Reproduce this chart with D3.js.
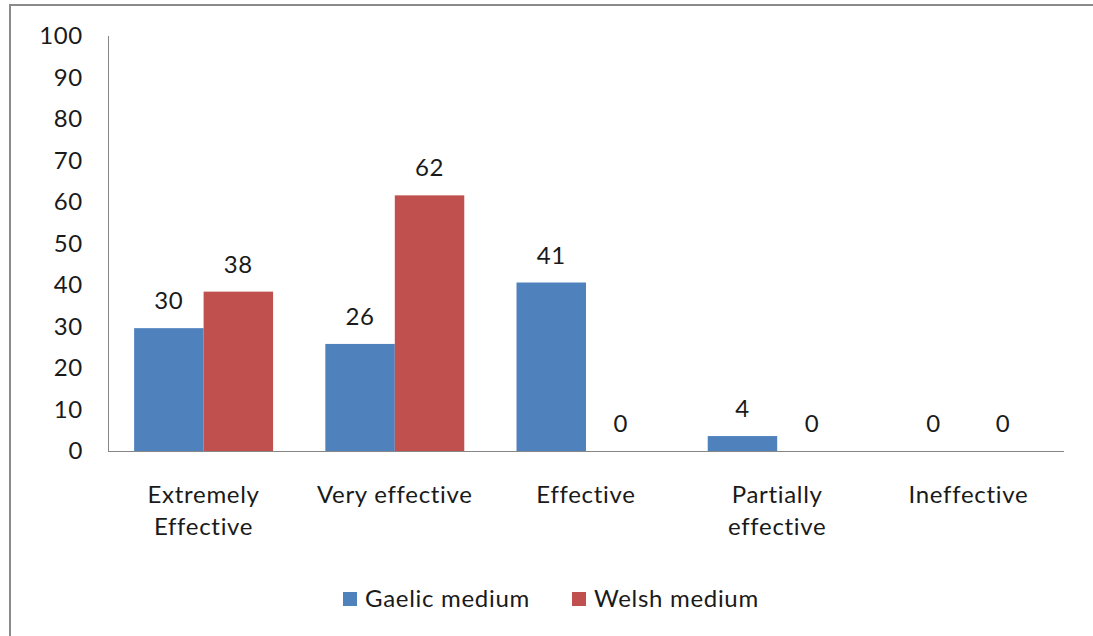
<!DOCTYPE html>
<html>
<head>
<meta charset="utf-8">
<script src="https://cdn.jsdelivr.net/npm/d3@7"></script>
<style>
  html, body { margin: 0; padding: 0; background: #fff; }
  svg { display: block; font-family: Lato, "Open Sans", sans-serif; }
  text { letter-spacing: 0.7px; }
</style>
</head>
<body>
<svg id="chart" width="1093" height="636"></svg>
<script>
const categories = [["Extremely", "Effective"], ["Very effective"], ["Effective"], ["Partially", "effective"], ["Ineffective"]];
const seriesNames = ["Gaelic medium", "Welsh medium"];
const gaelicValues = [29.6, 25.8, 40.6, 3.6, 0];
const welshValues = [38.4, 61.6, 0, 0, 0];
const yTicks = [0, 10, 20, 30, 40, 50, 60, 70, 80, 90, 100];
const colors = ["#4F81BD", "#C0504D"];

const svg = d3.select("#chart");
const plotLeft = 108, plotRight = 1064, plotTop = 36, plotBottom = 451;
const fontSize = 24;

// outer frame
svg.append("path")
  .attr("d", "M10,700 L10,5 L1200,5")
  .attr("fill", "none").attr("stroke", "#8a8a8a").attr("stroke-width", 2);

const x0 = d3.scaleBand().domain(d3.range(categories.length)).range([plotLeft, plotRight]).paddingInner(0).paddingOuter(0);
const x1 = d3.scaleBand().domain([0, 1]).range([0, x0.bandwidth()]).paddingOuter(0.376).paddingInner(0);
const y = d3.scaleLinear().domain([0, 100]).range([plotBottom, plotTop]);

// y axis labels
svg.append("g").selectAll("text").data(yTicks).join("text")
  .attr("x", 83).attr("y", d => y(d)).attr("dy", "0.35em")
  .attr("text-anchor", "end").attr("font-size", fontSize).attr("fill", "#1a1a1a")
  .text(d => d);

const series = [gaelicValues, welshValues];
series.forEach((vals, si) => {
  const g = svg.append("g");
  g.selectAll("rect").data(vals).join("rect")
    .attr("x", (d, i) => x0(i) + x1(si))
    .attr("width", x1.bandwidth())
    .attr("y", d => y(d))
    .attr("height", d => plotBottom - y(d))
    .attr("fill", colors[si]);
  g.selectAll("text").data(vals).join("text")
    .attr("x", (d, i) => x0(i) + x1(si) + x1.bandwidth() / 2)
    .attr("y", d => y(d) - 19)
    .attr("text-anchor", "middle").attr("font-size", fontSize).attr("fill", "#1a1a1a")
    .text(d => d3.format(".0f")(d));
});

// axes lines
svg.append("line").attr("x1", plotLeft + 0.5).attr("x2", plotLeft + 0.5).attr("y1", plotTop).attr("y2", plotBottom)
  .attr("stroke", "#868686").attr("stroke-width", 1);
svg.append("line").attr("x1", plotLeft).attr("x2", plotRight).attr("y1", plotBottom + 0.5).attr("y2", plotBottom + 0.5)
  .attr("stroke", "#868686").attr("stroke-width", 1);

// category labels
const cat = svg.append("g").selectAll("text").data(categories).join("text")
  .attr("x", (d, i) => x0(i) + x0.bandwidth() / 2)
  .attr("y", 503)
  .attr("text-anchor", "middle").attr("font-size", fontSize).attr("fill", "#1a1a1a");
cat.selectAll("tspan").data(d => d).join("tspan")
  .attr("x", function() { return d3.select(this.parentNode).attr("x"); })
  .attr("dy", (d, i) => i === 0 ? 0 : 32)
  .text(d => d);

// legend
const legendX = [343, 572];
const leg = svg.append("g").selectAll("g").data(seriesNames).join("g");
leg.append("rect").attr("x", (d, i) => legendX[i]).attr("y", 592).attr("width", 14).attr("height", 14)
  .attr("fill", (d, i) => colors[i]);
leg.append("text").attr("x", (d, i) => legendX[i] + 22).attr("y", 607)
  .attr("font-size", fontSize).attr("fill", "#1a1a1a").text(d => d);
</script>
</body>
</html>
